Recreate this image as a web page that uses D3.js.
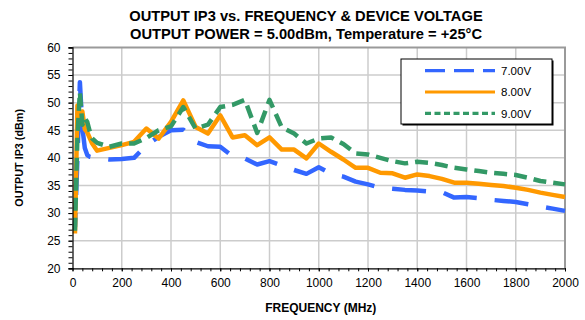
<!DOCTYPE html>
<html>
<head>
<meta charset="utf-8">
<script src="https://cdn.jsdelivr.net/npm/d3@7/dist/d3.min.js"></script>
<style>
  html, body { margin: 0; padding: 0; background: #fff; }
  svg { display: block; font-family: "Liberation Sans", Arial, sans-serif; }
</style>
</head>
<body>
<svg id="chart" width="585" height="320"></svg>
<script>
// Frequency points (MHz)
const freqs = [10, 20, 30, 40, 50, 60, 70, 80, 100, 150, 200, 250, 300, 350, 400, 450, 500,
  550, 600, 650, 700, 750, 800, 850, 900, 950, 1000, 1050, 1100, 1150, 1200, 1250, 1300,
  1350, 1400, 1450, 1500, 1550, 1600, 1650, 1700, 1750, 1800, 1850, 1900, 1950, 2000];

// Output IP3 (dBm) for each supply voltage
const ip3_7V = [27.5, 40.0, 53.7, 45.5, 41.8, 40.5, 40.2, 40.1, 40.0, 39.7, 39.8, 40.0, 42.3,
  43.8, 45.0, 45.1, 42.9, 42.1, 42.0, 40.3, 39.9, 38.8, 39.4, 38.6, 37.8, 37.1, 38.3, 37.1,
  36.6, 35.7, 35.2, 34.6, 34.4, 34.2, 34.1, 33.9, 33.8, 32.8, 32.9, 32.7, 32.4, 32.2, 32.0,
  31.6, 31.2, 30.8, 30.4];
const ip3_8V = [26.3, 49.5, 47.2, 48.4, 45.2, 44.6, 43.6, 42.6, 41.3, 41.8, 42.3, 42.9, 45.3,
  43.5, 46.5, 50.4, 45.6, 44.4, 47.7, 43.7, 44.1, 42.3, 43.7, 41.5, 41.5, 39.9, 42.6, 41.1,
  39.7, 38.2, 38.2, 37.3, 37.2, 36.4, 37.0, 36.7, 36.2, 35.5, 35.5, 35.3, 35.1, 34.9, 34.6,
  34.2, 33.7, 33.3, 32.9];
const ip3_9V = [26.8, 44.0, 51.9, 46.0, 47.2, 46.5, 44.8, 43.5, 42.7, 42.0, 42.6, 42.6, 43.6,
  45.0, 45.7, 49.2, 45.3, 46.0, 49.2, 49.6, 50.5, 44.5, 50.5, 45.5, 44.4, 42.6, 43.5, 43.7,
  42.5, 40.8, 40.6, 40.0, 39.4, 39.0, 39.3, 39.1, 38.7, 38.2, 37.9, 37.6, 37.3, 37.1, 36.9,
  36.4, 35.8, 35.5, 35.2];

const seriesNames = ["7.00V", "8.00V", "9.00V"];
const xTicks = [0, 200, 400, 600, 800, 1000, 1200, 1400, 1600, 1800, 2000];
const yTicks = [20, 25, 30, 35, 40, 45, 50, 55, 60];

const series = [
  { name: seriesNames[0], values: ip3_7V, color: "#3366ff", dash: "34,18", offset: 20, legendDash: "20,9" },
  { name: seriesNames[1], values: ip3_8V, color: "#ff9900", dash: null, offset: 0, legendDash: null },
  { name: seriesNames[2], values: ip3_9V, color: "#339966", dash: "13,7", offset: 0, legendDash: "6,3.5" }
];

const svg = d3.select("#chart");
const plotL = 72.5, plotR = 565, plotT = 47.4, plotB = 268.3;

const x = d3.scaleLinear().domain([0, 2000]).range([plotL, plotR]);
const y = d3.scaleLinear().domain([20, 60]).range([plotB, plotT]);

// Grid
const grid = svg.append("g");
grid.selectAll("line.h").data(yTicks.filter(v => v > 20 && v < 60)).join("line")
  .attr("x1", plotL).attr("x2", plotR)
  .attr("y1", d => y(d)).attr("y2", d => y(d))
  .attr("stroke", "#cccccc").attr("stroke-width", 1.5);
grid.selectAll("line.v").data(xTicks.filter(v => v > 0 && v < 2000)).join("line")
  .attr("y1", plotT).attr("y2", plotB)
  .attr("x1", d => x(d)).attr("x2", d => x(d))
  .attr("stroke", "#cccccc").attr("stroke-width", 1.5);

// Plot frame (top and right)
svg.append("path")
  .attr("d", `M${plotL},${plotT}H${plotR}V${plotB}`)
  .attr("fill", "none").attr("stroke", "#9a9a9a").attr("stroke-width", 2);

// Series lines
const line = d3.line().x((d, i) => x(freqs[i])).y(d => y(d));
series.forEach(s => {
  svg.append("path")
    .datum(s.values)
    .attr("d", line)
    .attr("fill", "none")
    .attr("stroke", s.color)
    .attr("stroke-width", 4.5)
    .attr("stroke-linejoin", "round")
    .attr("stroke-dasharray", s.dash)
    .attr("stroke-dashoffset", s.offset);
});

// Axes
const minorY = d3.range(20, 61, 1);
const minorX = d3.range(0, 2001, 40);

svg.append("g").attr("transform", `translate(${plotL},0)`)
  .call(d3.axisLeft(y).tickValues(minorY).tickSize(4).tickFormat(""))
  .call(g => g.select(".domain").remove())
  .call(g => g.selectAll("line").attr("stroke", "#000"));

const yAxis = svg.append("g").attr("transform", `translate(${plotL},0)`)
  .call(d3.axisLeft(y).tickValues(yTicks).tickSize(4).tickPadding(8).tickFormat(d3.format("d")));
yAxis.select(".domain").attr("stroke", "#000").attr("stroke-width", 1.2);
yAxis.selectAll("text").attr("font-size", 12).attr("fill", "#000")
  .attr("font-family", "'Liberation Sans', Arial, sans-serif");

svg.append("g").attr("transform", `translate(0,${plotB})`)
  .call(d3.axisBottom(x).tickValues(minorX).tickSize(3).tickFormat(""))
  .call(g => g.select(".domain").remove())
  .call(g => g.selectAll("line").attr("stroke", "#000"));

const xAxis = svg.append("g").attr("transform", `translate(0,${plotB})`)
  .call(d3.axisBottom(x).tickValues(xTicks).tickSize(3).tickSizeOuter(0).tickPadding(7.5)
    .tickFormat(d3.format("d")));
xAxis.select(".domain").attr("stroke", "#000").attr("stroke-width", 1.2);
xAxis.selectAll("text").attr("font-size", 12).attr("fill", "#000")
  .attr("font-family", "'Liberation Sans', Arial, sans-serif");

// Titles
svg.append("text").attr("x", 306).attr("y", 21).attr("text-anchor", "middle")
  .attr("font-size", 14.7).attr("font-weight", "bold")
  .text("OUTPUT IP3 vs. FREQUENCY & DEVICE VOLTAGE");
svg.append("text").attr("x", 306).attr("y", 38.5).attr("text-anchor", "middle")
  .attr("font-size", 14.7).attr("font-weight", "bold")
  .text("OUTPUT POWER = 5.00dBm, Temperature = +25°C");

svg.append("text").attr("x", (plotL + plotR) / 2 + 2).attr("y", 312).attr("text-anchor", "middle")
  .attr("font-size", 12).attr("font-weight", "bold")
  .text("FREQUENCY (MHz)");
svg.append("text")
  .attr("transform", `translate(23,${(plotT + plotB) / 2}) rotate(-90)`)
  .attr("text-anchor", "middle")
  .attr("font-size", 10.8).attr("font-weight", "bold")
  .text("OUTPUT IP3 (dBm)");

// Legend
const lg = svg.append("g");
const lx = 401, ly = 59, lw = 151, lh = 65;
lg.append("rect").attr("x", lx + 1.5).attr("y", ly + 1.5).attr("width", lw).attr("height", lh)
  .attr("fill", "#000");
lg.append("rect").attr("x", lx).attr("y", ly).attr("width", lw).attr("height", lh)
  .attr("fill", "#fff").attr("stroke", "#000").attr("stroke-width", 1);
series.forEach((s, i) => {
  const yy = ly + 11.7 + i * 21.3;
  lg.append("line").attr("x1", lx + 24).attr("x2", lx + 94)
    .attr("y1", yy).attr("y2", yy)
    .attr("stroke", s.color).attr("stroke-width", 3.2)
    .attr("stroke-dasharray", s.legendDash);
  lg.append("text").attr("x", lx + 100).attr("y", yy + 4.2)
    .attr("font-size", 11.5).text(s.name);
});
</script>
</body>
</html>
